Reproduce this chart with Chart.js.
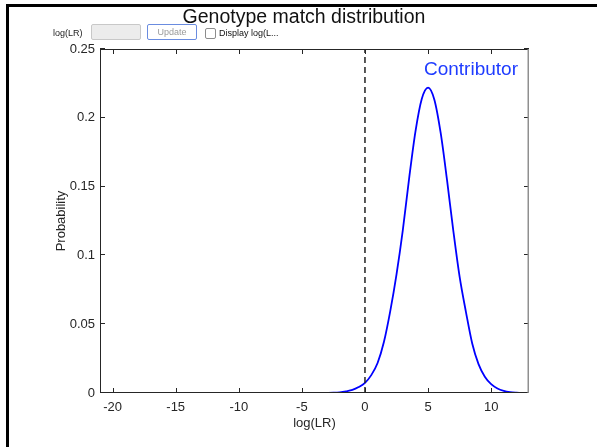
<!DOCTYPE html>
<html>
<head>
<meta charset="utf-8">
<script src="https://cdn.jsdelivr.net/npm/chart.js@4"></script>
<style>
  html, body { margin: 0; padding: 0; background: #fff; }
  body { width: 597px; height: 447px; overflow: hidden; font-family: "Liberation Sans", Arial, Helvetica, sans-serif; }
  #wrap { position: relative; width: 597px; height: 447px; }
  #chart { position: absolute; left: 0; top: 0; }
  #frame {
    position: absolute; left: 6px; top: 4px; width: 591px; height: 443px;
    box-sizing: border-box; border-top: 3px solid #000; border-left: 3px solid #000;
    pointer-events: none;
  }
  #title {
    position: absolute; left: 0; top: 7px; width: 608px; text-align: center;
    font-size: 19.5px; line-height: 1; color: #111; white-space: nowrap;
  }
  .ctl { position: absolute; box-sizing: border-box; }
  #lbl-lr { left: 53px; top: 28px; font-size: 9px; line-height: 11px; color: #222; }
  #box-lr { left: 91px; top: 24px; width: 50px; height: 16px; background: #ececec; border: 1px solid #c8c8c8; border-radius: 2px; }
  #btn-update {
    left: 147px; top: 24px; width: 50px; height: 16px; background: #fff;
    border: 1px solid #6a8ce0; border-radius: 2px;
    font-size: 9px; line-height: 14px; text-align: center; color: #9a9a9a;
  }
  #chk { left: 205px; top: 28px; width: 11px; height: 11px; background: #fff; border: 1px solid #8c8c8c; border-radius: 2px; }
  #lbl-chk { left: 219px; top: 28px; font-size: 9px; line-height: 11px; color: #111; white-space: nowrap; }
</style>
</head>
<body>
<div id="wrap">
  <canvas id="chart" width="597" height="447"></canvas>
  <div id="title">Genotype match distribution</div>
  <div class="ctl" id="lbl-lr">log(LR)</div>
  <div class="ctl" id="box-lr"></div>
  <div class="ctl" id="btn-update">Update</div>
  <div class="ctl" id="chk"></div>
  <div class="ctl" id="lbl-chk">Display log(L...</div>
  <div id="frame"></div>
</div>
<script>
"use strict";

// Contributor log(LR) distribution, sampled every 0.5 around the peak.
const LOG_LR = [
  -21, -8, -6, -5, -4, -3.5, -3, -2.5, -2, -1.5, -1, -0.5, 0, 0.5, 1, 1.5, 2, 2.5,
  3, 3.5, 4, 4.5, 5, 5.5, 6, 6.5, 7, 7.5, 8, 8.5, 9, 9.5, 10, 10.5, 11, 11.5, 12, 12.5, 13,
];
const PROB = [
  0, 0, 0, 0.00001, 0.00003, 0.00006, 0.0001, 0.0002, 0.0005, 0.0012, 0.0022, 0.0043, 0.0074, 0.0130, 0.0218, 0.0370, 0.0593, 0.0862,
  0.1184, 0.1560, 0.1900, 0.2137, 0.2220, 0.2132, 0.1890, 0.1550, 0.1180, 0.0845, 0.0590, 0.0360, 0.0210, 0.0118, 0.0064, 0.0033, 0.0016, 0.0007, 0.0003, 0.0001, 0.00004,
];

// threshold marker at log(LR) = 0
const THRESHOLD_X = [0, 0];
const THRESHOLD_Y = [0, 0.25];

const X_TICKS = [-20, -15, -10, -5, 0, 5, 10];
const Y_TICKS = [0, 0.05, 0.1, 0.15, 0.2, 0.25];
const X_RANGE = [-21, 13];
const Y_RANGE = [0, 0.25];

const LABEL = { text: "Contributor", x: 8.4, y: 0.2352 };

const FONT = '"Liberation Sans", Arial, Helvetica, sans-serif';
const AXIS_COLOR = "#262626";

const toPoints = (xs, ys) => xs.map((x, i) => ({ x, y: ys[i] }));
const fmtTick = (v) => String(+Number(v).toFixed(2));

// MATLAB-style box: frame on all sides with ticks pointing inward
const axesBox = {
  id: "axesBox",
  afterDatasetsDraw(chart) {
    const { ctx, chartArea: a, scales } = chart;
    const len = 5;
    ctx.save();
    ctx.lineWidth = 1;
    ctx.strokeStyle = AXIS_COLOR;
    ctx.beginPath();
    ctx.moveTo(a.left + 0.5, a.top + 0.5);
    ctx.lineTo(a.right - 0.5, a.top + 0.5);
    ctx.moveTo(a.left + 0.5, a.top);
    ctx.lineTo(a.left + 0.5, a.bottom);
    ctx.moveTo(a.left, a.bottom - 0.5);
    ctx.lineTo(a.right, a.bottom - 0.5);
    for (const t of scales.x.ticks) {
      const px = Math.round(scales.x.getPixelForValue(t.value)) + 0.5;
      ctx.moveTo(px, a.bottom);
      ctx.lineTo(px, a.bottom - len);
      ctx.moveTo(px, a.top);
      ctx.lineTo(px, a.top + len);
    }
    for (const t of scales.y.ticks) {
      const py = Math.round(scales.y.getPixelForValue(t.value)) - 0.5;
      ctx.moveTo(a.left, py);
      ctx.lineTo(a.left + len, py);
      ctx.moveTo(a.right, py);
      ctx.lineTo(a.right - len, py);
    }
    ctx.stroke();
    ctx.strokeStyle = "#8f8f8f";
    ctx.lineWidth = 1.5;
    ctx.beginPath();
    ctx.moveTo(a.right - 0.75, a.top);
    ctx.lineTo(a.right - 0.75, a.bottom);
    ctx.stroke();
    ctx.restore();
  },
};

const seriesLabel = {
  id: "seriesLabel",
  afterDatasetsDraw(chart) {
    const { ctx, scales } = chart;
    ctx.save();
    ctx.font = `19px ${FONT}`;
    ctx.fillStyle = "#1f3cff";
    ctx.textAlign = "center";
    ctx.textBaseline = "middle";
    ctx.fillText(LABEL.text, scales.x.getPixelForValue(LABEL.x), scales.y.getPixelForValue(LABEL.y));
    ctx.restore();
  },
};

Chart.defaults.font.family = FONT;
Chart.defaults.color = AXIS_COLOR;

new Chart(document.getElementById("chart"), {
  type: "line",
  data: {
    datasets: [
      {
        data: toPoints(THRESHOLD_X, THRESHOLD_Y),
        borderColor: "#222",
        borderWidth: 1.5,
        borderDash: [6, 4],
        pointRadius: 0,
      },
      {
        data: toPoints(LOG_LR, PROB),
        borderColor: "#0000ff",
        borderWidth: 1.8,
        pointRadius: 0,
        cubicInterpolationMode: "monotone",
      },
    ],
  },
  options: {
    responsive: false,
    animation: false,
    layout: { padding: { top: 49, left: 0, right: 68, bottom: 0 } },
    plugins: {
      legend: { display: false },
      tooltip: { enabled: false },
    },
    scales: {
      x: {
        type: "linear",
        min: X_RANGE[0],
        max: X_RANGE[1],
        afterBuildTicks: (s) => { s.ticks = X_TICKS.map((value) => ({ value })); },
        afterFit: (s) => { s.height = 54; },
        grid: { display: false, drawTicks: false },
        border: { display: false },
        ticks: { font: { size: 13 }, padding: 7, maxRotation: 0, autoSkip: false, callback: fmtTick },
        title: { display: true, text: "log(LR)", font: { size: 13 }, padding: { top: 2, bottom: 16 } },
      },
      y: {
        min: Y_RANGE[0],
        max: Y_RANGE[1],
        afterBuildTicks: (s) => { s.ticks = Y_TICKS.map((value) => ({ value })); },
        afterFit: (s) => { s.width = 100; },
        grid: { display: false, drawTicks: false },
        border: { display: false },
        ticks: { font: { size: 13 }, padding: 5, autoSkip: false, callback: fmtTick },
        title: { display: true, text: "Probability", font: { size: 13 }, padding: { top: 54, bottom: 0 } },
      },
    },
  },
  plugins: [axesBox, seriesLabel],
});
</script>
</body>
</html>
